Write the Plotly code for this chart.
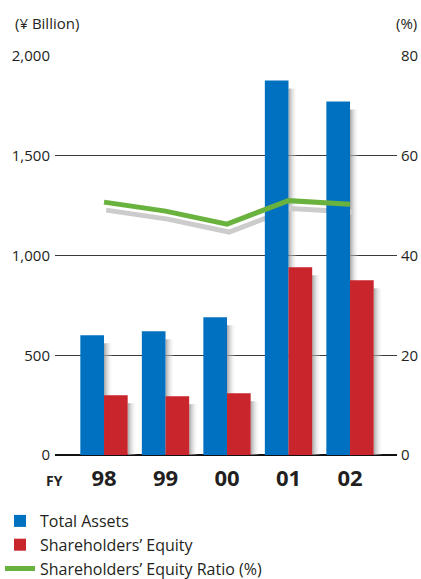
import plotly.graph_objects as go

# Fiscal years and values
years = ["98", "99", "00", "01", "02"]
total_assets = [600, 620, 690, 1877, 1772]          # ¥ Billion
shareholders_equity = [300, 295, 310, 941, 876]     # ¥ Billion
equity_ratio = [50.7, 48.9, 46.3, 51.0, 50.3]       # %

left_ticks = [0, 500, 1000, 1500, 2000]
right_ticks = [0, 20, 40, 60, 80]

BLUE = "#0070c0"
RED = "#c9252c"
GREEN = "#6ab23e"
FONT = "Open Sans, Noto Sans, sans-serif"

x = list(range(len(years)))
BAR_W = 0.385
SHADOW_W = 0.15        # width of the soft drop shadow (x units)
SHADOW_DROP = 40       # shadow top sits a little below the bar top (¥ Billion)

fig = go.Figure()


def bar_shadow(right_edge, value):
    x0, x1 = right_edge, right_edge + SHADOW_W
    top = max(value - SHADOW_DROP, 0)
    return go.Scatter(
        x=[x0, x1, x1, x0, x0], y=[0, 0, top, top, 0],
        xaxis="x", yaxis="y",
        mode="lines", line=dict(width=0), fill="toself",
        fillgradient=dict(type="horizontal",
                          colorscale=[[0, "rgba(150,150,150,0.85)"],
                                      [1, "rgba(255,255,255,0)"]]),
        hoverinfo="skip", showlegend=False,
    )


# Drop shadows behind the bars
for i, v in zip(x, total_assets):
    fig.add_trace(bar_shadow(i, v))
for i, v in zip(x, shareholders_equity):
    fig.add_trace(bar_shadow(i + BAR_W, v))

# Grey shadow under the ratio line
fig.add_trace(go.Scatter(
    x=[i + 0.035 for i in x], y=[r - 1.6 for r in equity_ratio],
    xaxis="x", yaxis="y2", mode="lines",
    line=dict(color="#cccccc", width=5),
    hoverinfo="skip", showlegend=False,
))

# Bars
fig.add_trace(go.Bar(
    x=x, y=total_assets, name="Total Assets",
    xaxis="x", yaxis="y3",
    width=BAR_W, offset=-BAR_W, marker=dict(color=BLUE, line=dict(width=0)),
))
fig.add_trace(go.Bar(
    x=x, y=shareholders_equity, name="Shareholders’ Equity",
    xaxis="x", yaxis="y3",
    width=BAR_W, offset=0, marker=dict(color=RED, line=dict(width=0)),
))

# Ratio line
fig.add_trace(go.Scatter(
    x=x, y=equity_ratio, name="Shareholders’ Equity Ratio (%)",
    xaxis="x", yaxis="y4", mode="lines",
    line=dict(color=GREEN, width=5),
))

fig.update_layout(
    width=421, height=579,
    margin=dict(l=55, r=24, t=56, b=124, autoexpand=False),
    paper_bgcolor="white", plot_bgcolor="white",
    font=dict(family=FONT, size=15, color="#231f20"),
    barmode="overlay",
    showlegend=True,
    legend=dict(
        xref="container", yref="container",
        x=0.0, y=(579 - 504) / 579, xanchor="left", yanchor="top",
        font=dict(size=16, color="#231f20"),
        bgcolor="rgba(0,0,0,0)", tracegroupgap=0,
        itemwidth=30,
    ),
    xaxis=dict(
        range=[-0.797, 4.764],
        tickmode="array", tickvals=x, ticktext=years,
        tickfont=dict(family=FONT, size=22, color="#231f20", weight="bold"),
        showgrid=False, zeroline=False, showline=False, ticks="",
        ticklabelstandoff=8, automargin=False,
    ),
    yaxis=dict(
        range=[0, 2000],
        tickmode="array", tickvals=left_ticks, tickformat=",d",
        showgrid=True, gridcolor="#3a3a3a", gridwidth=1,
        zeroline=True, zerolinecolor="#111111", zerolinewidth=2,
        showline=False, ticks="", ticklabelstandoff=4, automargin=False,
    ),
    yaxis2=dict(range=[0, 80], overlaying="y", visible=False),
    yaxis3=dict(range=[0, 2000], overlaying="y", visible=False),
    yaxis4=dict(
        range=[0, 80], overlaying="y", side="right",
        tickmode="array", tickvals=right_ticks,
        showgrid=False, zeroline=False, showline=False, ticks="",
        ticklabelstandoff=3, automargin=False,
    ),
    annotations=[
        dict(text="(¥ Billion)", xref="paper", yref="paper",
             x=(13 - 55) / 342, y=(455 - 23) / 399,
             xanchor="left", yanchor="middle", showarrow=False,
             font=dict(size=15)),
        dict(text="(%)", xref="paper", yref="paper",
             x=(419 - 55) / 342, y=(455 - 23) / 399,
             xanchor="right", yanchor="middle", showarrow=False,
             font=dict(size=15)),
        dict(text="<b>FY</b>", xref="paper", yref="paper",
             x=(54 - 55) / 342, y=(455 - 480) / 399,
             xanchor="center", yanchor="middle", showarrow=False,
             font=dict(size=14)),
    ],
)

fig.write_html("out.html")
